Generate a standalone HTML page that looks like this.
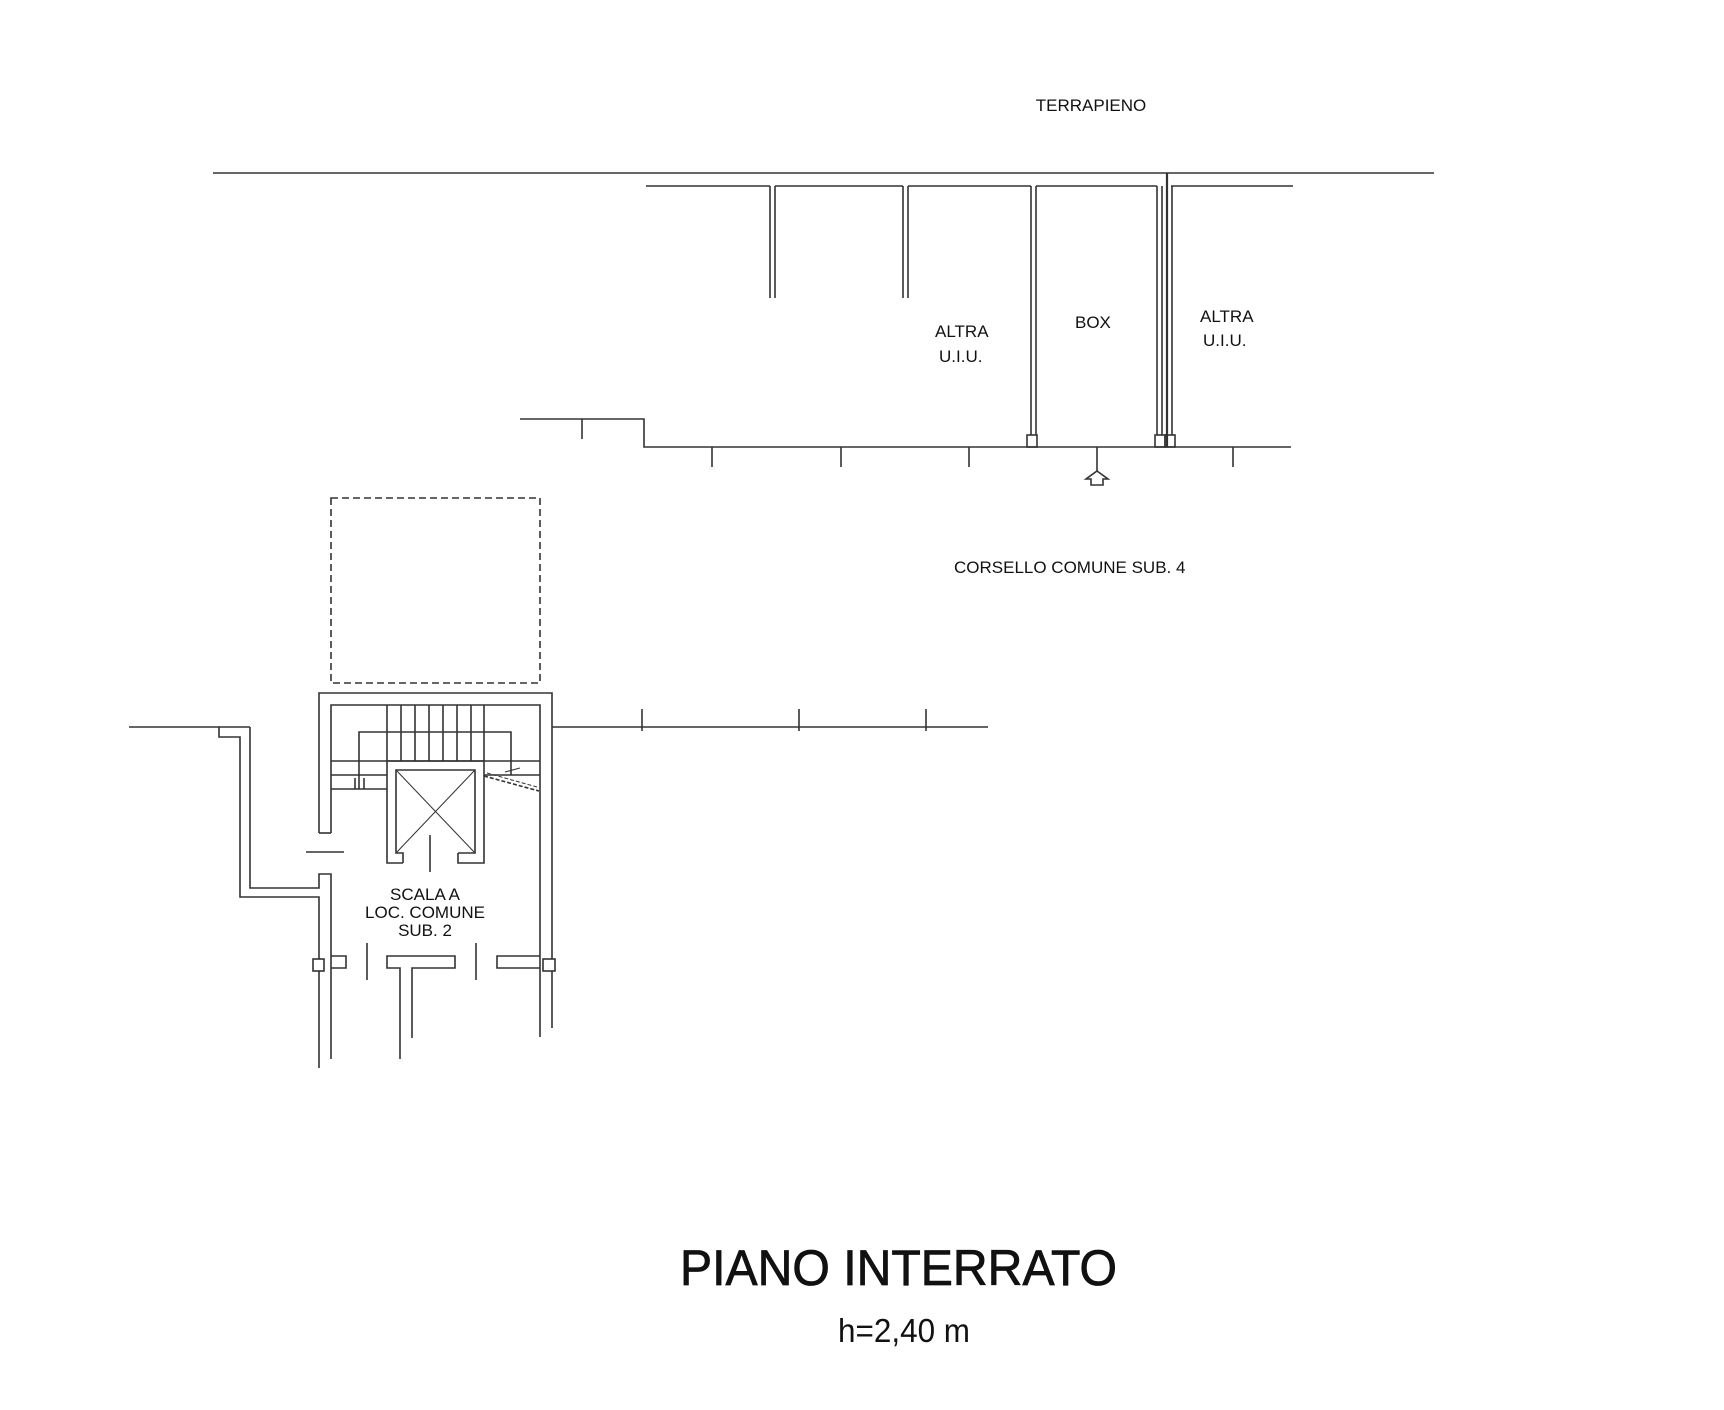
<!DOCTYPE html>
<html><head><meta charset="utf-8"><style>
html,body{margin:0;padding:0;background:#fff;}
svg{display:block;}
text{font-family:"Liberation Sans",sans-serif;fill:#111;}
</style></head><body>
<svg width="1724" height="1410" viewBox="0 0 1724 1410" xmlns="http://www.w3.org/2000/svg">
<g transform="translate(0,-3)">
<g stroke="#333" stroke-width="1.6" fill="none">
<line x1="213" y1="176" x2="1434" y2="176"/>
<line x1="646" y1="189" x2="770" y2="189"/>
<line x1="775" y1="189" x2="903" y2="189"/>
<line x1="908" y1="189" x2="1031" y2="189"/>
<line x1="1036" y1="189" x2="1157" y2="189"/>
<line x1="1171" y1="189" x2="1293" y2="189"/>
<line x1="770" y1="189" x2="770" y2="301"/>
<line x1="775" y1="189" x2="775" y2="301"/>
<line x1="903" y1="189" x2="903" y2="301"/>
<line x1="908" y1="189" x2="908" y2="301"/>
<line x1="1031" y1="189" x2="1031" y2="438"/>
<line x1="1036" y1="189" x2="1036" y2="438"/>
<line x1="1157" y1="189" x2="1157" y2="438"/>
<line x1="1162" y1="189" x2="1162" y2="438"/>
<line x1="1167" y1="176" x2="1167" y2="450" stroke-width="2.2"/>
<line x1="1172" y1="189" x2="1172" y2="438"/>
<rect x="1027" y="438" width="10" height="12"/>
<rect x="1155" y="438" width="10" height="12"/>
<rect x="1165" y="438" width="10" height="12"/>
<polyline points="520,422 644,422 644,450 1291,450"/>
<line x1="582" y1="422" x2="582" y2="442"/>
<line x1="712" y1="450" x2="712" y2="470"/>
<line x1="841" y1="450" x2="841" y2="470"/>
<line x1="969" y1="450" x2="969" y2="470"/>
<line x1="1233" y1="450" x2="1233" y2="470"/>
<line x1="1097" y1="450" x2="1097" y2="474"/>
<polygon points="1097,474 1108,482 1103,482 1103,488 1091,488 1091,482 1086,482"/>
</g>
<g font-size="17">
<text x="1091" y="114" text-anchor="middle">TERRAPIENO</text>
<text x="935" y="340">ALTRA</text>
<text x="939" y="365">U.I.U.</text>
<text x="1075" y="331">BOX</text>
<text x="1200" y="325">ALTRA</text>
<text x="1203" y="349">U.I.U.</text>
<text x="954" y="576">CORSELLO COMUNE SUB. 4</text>
</g>
</g>
<g stroke="#333" stroke-width="1.6" fill="none">
<rect x="331" y="498" width="209" height="185" stroke-dasharray="7,4"/>
<polyline points="319,833 319,693 552,693 552,1028"/>
<polyline points="331,833 331,705 540,705 540,1037"/>
<line x1="319" y1="833" x2="331" y2="833"/>
<line x1="552" y1="727" x2="988" y2="727"/>
<line x1="642" y1="709" x2="642" y2="731"/>
<line x1="799" y1="709" x2="799" y2="731"/>
<line x1="926" y1="709" x2="926" y2="731"/>
<polyline points="129,727 219,727 219,737 240,737 240,897 319,897 319,1068"/>
<line x1="219" y1="727" x2="250" y2="727"/>
<polyline points="250,727 250,888 319,888 319,874 331,874 331,1059"/>
<line x1="306" y1="852" x2="344" y2="852"/>
<line x1="387" y1="705" x2="387" y2="761"/>
<line x1="401" y1="705" x2="401" y2="761"/>
<line x1="415" y1="705" x2="415" y2="761"/>
<line x1="429" y1="705" x2="429" y2="761"/>
<line x1="443" y1="705" x2="443" y2="761"/>
<line x1="457" y1="705" x2="457" y2="761"/>
<line x1="471" y1="705" x2="471" y2="761"/>
<line x1="484" y1="705" x2="484" y2="761"/>
<line x1="331" y1="761" x2="540" y2="761"/>
<line x1="331" y1="775" x2="387" y2="775"/>
<line x1="484" y1="775" x2="540" y2="775"/>
<line x1="331" y1="789" x2="387" y2="789"/>
<polyline points="359,789 359,732 511,732 511,775"/>
<line x1="355" y1="778" x2="355" y2="789"/>
<line x1="364" y1="778" x2="364" y2="789"/>
<line x1="484" y1="776" x2="539" y2="791" stroke-dasharray="4,2"/>
<line x1="487" y1="773" x2="537" y2="787" stroke-dasharray="4,2" stroke-width="1"/>
<line x1="505" y1="772" x2="520" y2="768" stroke-width="1"/>
<polyline points="403,863 387,863 387,761 484,761 484,863 458,863 458,853"/>
<polyline points="403,863 403,853 396,853 396,770 475,770 475,853 458,853"/>
<line x1="396" y1="770" x2="475" y2="853" stroke-width="1"/>
<line x1="475" y1="770" x2="396" y2="853" stroke-width="1"/>
<line x1="430" y1="835" x2="430" y2="872"/>
<rect x="313" y="959" width="11" height="12" fill="#fff"/>
<polyline points="331,956 346,956 346,968 331,968"/>
<line x1="367" y1="943" x2="367" y2="980"/>
<line x1="476" y1="943" x2="476" y2="980"/>
<polyline points="400,1059 400,968 387,968 387,956 455,956 455,968 412,968 412,1038"/>
<polyline points="540,956 497,956 497,968 540,968"/>
<rect x="543" y="959" width="12" height="12" fill="#fff"/>
</g>
<g font-size="17">
<text x="425" y="900" text-anchor="middle">SCALA A</text>
<text x="425" y="918" text-anchor="middle">LOC. COMUNE</text>
<text x="425" y="936" text-anchor="middle">SUB. 2</text>
</g>
<text x="680" y="1285" font-size="50" textLength="437" lengthAdjust="spacingAndGlyphs" stroke="#111" stroke-width="0.8">PIANO INTERRATO</text>
<text x="838" y="1342" font-size="33" textLength="132" lengthAdjust="spacingAndGlyphs">h=2,40 m</text>
</svg>
</body></html>
